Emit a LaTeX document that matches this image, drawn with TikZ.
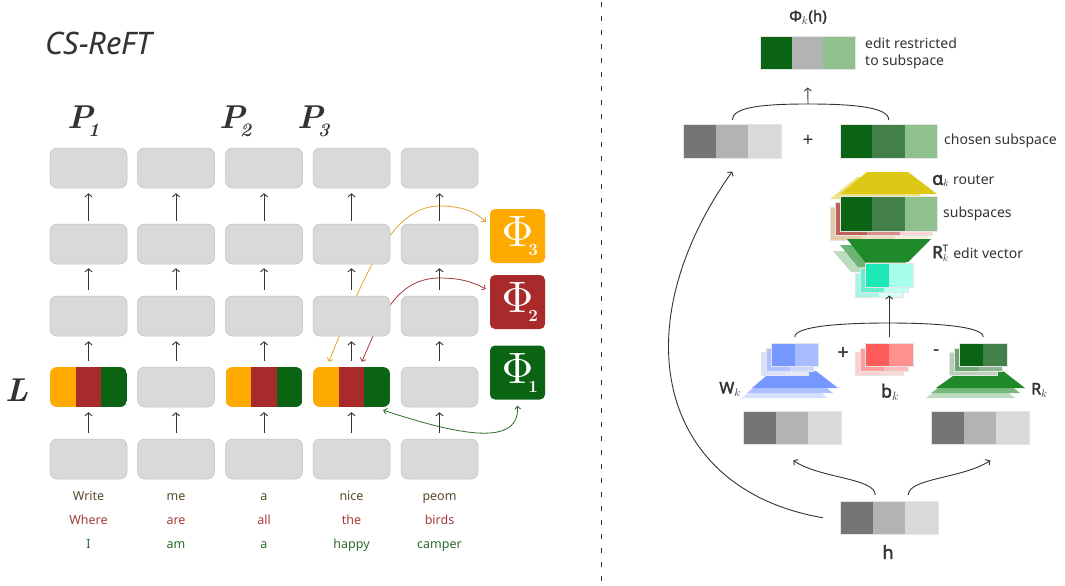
\documentclass[tikz,border=0pt]{standalone}
\usepackage{fontspec}
\usepackage{graphicx}
\usetikzlibrary{arrows.meta,backgrounds,calc}
\newfontfamily\notosans{Noto Sans}
\newfontfamily\notobold{Noto Sans}[FakeBold=2.2]
\definecolor{cellg}{HTML}{D9D9D9}
\definecolor{cellb}{HTML}{C2C2C2}
\definecolor{amber}{HTML}{FFAA00}
\definecolor{crim}{HTML}{A82A2A}
\definecolor{dgreen}{HTML}{0B6413}
\definecolor{mgreen}{HTML}{44804A}
\definecolor{lgreen}{HTML}{8FC18F}
\definecolor{gA}{HTML}{757575}
\definecolor{gB}{HTML}{B3B3B3}
\definecolor{gC}{HTML}{D9D9D9}
\definecolor{ink}{HTML}{333333}
\definecolor{yel}{HTML}{DDC915}
\definecolor{yelL}{HTML}{EFE38A}
\definecolor{trg}{HTML}{1F8A29}
\definecolor{blueA}{HTML}{7799FF}
\definecolor{blueB}{HTML}{A9BCFF}
\definecolor{redA}{HTML}{FF5C5C}
\definecolor{redB}{HTML}{FF9191}
\definecolor{tealA}{HTML}{1DE9B6}
\definecolor{tealB}{HTML}{A7FFEB}
\definecolor{rsA}{HTML}{C0605A}
\definecolor{rsB}{HTML}{D98C8A}
\definecolor{rsC}{HTML}{FFD4D4}
\definecolor{tnA}{HTML}{E3CBA8}
\definecolor{tnB}{HTML}{EEDCC2}
\definecolor{tnC}{HTML}{FAEEDF}
\definecolor{wA}{HTML}{5B4A2E}
\definecolor{wB}{HTML}{A63D3D}
\definecolor{wC}{HTML}{2E6B30}
\definecolor{lkO}{HTML}{E3A532}
\definecolor{lkR}{HTML}{A83C3C}
\definecolor{lkG}{HTML}{2E6E2E}
% three-cell bar: name, x, y(top, px down), w, h, c1, c2, c3
\newcommand\tribar[8]{%
  \fill[#6] (#2,-#3) rectangle (#2+#4/3,-#3-#5);
  \fill[#7] (#2+#4/3,-#3) rectangle (#2+2*#4/3,-#3-#5);
  \fill[#8] (#2+2*#4/3,-#3) rectangle (#2+#4,-#3-#5);
  \node[barframe, minimum width=#4pt, minimum height=#5pt, anchor=north west] (#1) at (#2,-#3) {};}
% two-cell box: name, x, y, w, h, c1, c2
\newcommand\duobar[7]{%
  \fill[#6] (#2,-#3) rectangle (#2+#4/2,-#3-#5);
  \fill[#7] (#2+#4/2,-#3) rectangle (#2+#4,-#3-#5);
  \node[barframe, minimum width=#4pt, minimum height=#5pt, anchor=north west] (#1) at (#2,-#3) {};}
\begin{document}
\begin{tikzpicture}[x=1pt,y=1pt,
  cell/.style={rectangle, rounded corners=7pt, fill=cellg, draw=cellb, line width=0.5pt, minimum width=77pt, minimum height=40pt, inner sep=0pt},
  tricell/.style={rectangle, rounded corners=7pt, minimum width=77pt, minimum height=40pt, inner sep=0pt, path picture={
     \fill[amber, sharp corners] (path picture bounding box.south west) rectangle ([xshift=25.7pt]path picture bounding box.north west);
     \fill[crim, sharp corners] ([xshift=25.7pt]path picture bounding box.south west) rectangle ([xshift=51.3pt]path picture bounding box.north west);
     \fill[dgreen, sharp corners] ([xshift=51.3pt]path picture bounding box.south west) rectangle (path picture bounding box.north east);}},
  up/.style={draw=ink, line width=0.9pt, -{Straight Barb[length=3pt,width=7pt]}},
  link/.style={line width=0.8pt, {Straight Barb[length=3pt,width=6pt]}-{Straight Barb[length=3pt,width=6pt]}},
  word/.style={font=\notosans\fontsize{12.5}{12.5}\selectfont, anchor=base, inner sep=0pt},
  phibox/.style={rectangle, rounded corners=5pt, minimum width=55pt, minimum height=54pt, inner sep=0pt, text=white},
  bigit/.style={font=\bfseries\itshape\fontsize{33}{33}\selectfont, text=ink, inner sep=0pt, anchor=base west},
  lbl/.style={font=\notosans\fontsize{14}{17}\selectfont, text=ink, inner sep=0pt, anchor=west, align=left},
  blbl/.style={font=\notobold\fontsize{16}{16}\selectfont, text=ink, inner sep=0pt},
  line/.style={draw=ink, line width=0.9pt},
  barframe/.style={draw=black!10, line width=0.5pt, inner sep=0pt},
]
\useasboundingbox (0,0) rectangle (1065,-586);

% ---------------- left panel ----------------
\node[anchor=west, font=\notosans\itshape\fontsize{31}{31}\selectfont, text=ink, inner sep=0pt] (title) at (45,-43) {CS-ReFT};
\node[bigit] (p1) at (67,-128) {P\kern-5pt\raisebox{-8pt}{\fontsize{19}{19}\selectfont 1}};
\node[bigit] (p2) at (219,-128) {P\kern-5pt\raisebox{-8pt}{\fontsize{19}{19}\selectfont 2}};
\node[bigit] (p3) at (297,-128) {P\kern-5pt\raisebox{-8pt}{\fontsize{19}{19}\selectfont 3}};
\node[bigit] (lL) at (5,-401) {L};

\foreach \x [count=\i] in {88.5,176,264,351.5,439.5} {
  \node[cell] (n1-\i) at (\x,-168) {};
  \node[cell] (n2-\i) at (\x,-244) {};
  \node[cell] (n3-\i) at (\x,-316) {};
  \node[cell] (n5-\i) at (\x,-459) {};
}
\node[tricell] (n4-1) at (88.5,-387) {};
\node[cell] (n4-2) at (176,-387) {};
\node[tricell] (n4-3) at (264,-387) {};
\node[tricell] (n4-4) at (351.5,-387) {};
\node[cell] (n4-5) at (439.5,-387) {};

\foreach \i in {1,...,5} {
  \draw[up] ([yshift=6pt]n5-\i.north) -- ([yshift=-5pt]n4-\i.south);
  \draw[up] ([yshift=6pt]n4-\i.north) -- ([yshift=-5pt]n3-\i.south);
  \draw[up] ([yshift=6pt]n3-\i.north) -- ([yshift=-4pt]n2-\i.south);
  \draw[up] ([yshift=3pt]n2-\i.north) -- ([yshift=-5pt]n1-\i.south);
}

\foreach \x/\a/\b/\c [count=\i] in {88.5/Write/Where/I, 176/me/are/am, 264/a/all/a, 351.5/nice/the/happy, 439.5/peom/birds/camper} {
  \node[word, text=wA] (wa\i) at (\x,-500) {\a};
  \node[word, text=wB] (wb\i) at (\x,-524) {\b};
  \node[word, text=wC] (wc\i) at (\x,-548) {\c};
}

\node[phibox, fill=amber] (phi3) at (517.5,-236) {\scalebox{4.4}{$\Phi$}\rlap{\kern-5pt\raisebox{-9pt}{\fontsize{17}{17}\selectfont\bfseries 3}}};
\node[phibox, fill=crim] (phi2) at (517.5,-302) {\scalebox{4.4}{$\Phi$}\rlap{\kern-5pt\raisebox{-9pt}{\fontsize{17}{17}\selectfont\bfseries 2}}};
\node[phibox, fill=dgreen] (phi1) at (517.5,-372.5) {\scalebox{4.4}{$\Phi$}\rlap{\kern-5pt\raisebox{-9pt}{\fontsize{17}{17}\selectfont\bfseries 1}}};

% ---------------- right panel ----------------
\node[blbl, font=\notobold\fontsize{15}{15}\selectfont] (phik) at (808,-17) {Φ$_k$(h)};
\tribar{tb}{760}{36}{95}{33}{dgreen}{gB}{lgreen}
\node[lbl] (note1) at (865,-53) {edit restricted\\to subspace};

\tribar{lb}{683}{124}{98}{34}{gA}{gB}{gC}
\node[font=\notosans\fontsize{19}{19}\selectfont, text=ink, inner sep=0pt] (plus1) at (808,-141) {+};
\tribar{gb}{840}{124}{97}{34}{dgreen}{mgreen}{lgreen}
\node[lbl] (cs) at (944,-141) {chosen subspace};

\coordinate (join1) at (808,-104);
\draw[line] ([yshift=4pt]lb.north) .. controls +(0,13) and +(-45,0) .. (join1) .. controls +(45,0) and +(0,13) .. ([yshift=4pt]gb.north);
\draw[up] (join1) -- ([yshift=-18pt]tb.south);

% router
\fill[yelL] (857,-177) -- (898,-177) -- (925,-199) -- (830,-199) -- cycle;
\fill[yel] (867,-172) -- (908,-172) -- (937,-194) -- (840,-194) -- cycle;
\node[lbl] (router) at (932,-181) {{\notobold\fontsize{18}{18}\selectfont α}$_k$ router};

% subspaces
\tribar{sub3}{830}{207}{97}{33}{tnA}{tnB}{tnC}
\tribar{sub2}{835}{202}{97}{33}{rsA}{rsB}{rsC}
\tribar{sub}{840}{196}{97}{35}{dgreen}{mgreen}{lgreen}
\node[lbl] (subs) at (943,-214) {subspaces};

% R^T
\fill[trg!30] (833,-251) -- (917,-251) -- (894,-272) -- (851,-272) -- cycle;
\fill[trg!65] (840,-245) -- (924,-245) -- (901,-267) -- (858,-267) -- cycle;
\fill[trg] (847,-239) -- (931,-239) -- (908,-262) -- (865,-262) -- cycle;
\node[lbl] (ev) at (932,-253) {{\notobold\fontsize{17}{17}\selectfont R}\rlap{\raisebox{7pt}{\notobold\fontsize{9}{9}\selectfont T}}\raisebox{-3pt}{$\scriptstyle k$}\hspace{5pt}edit vector};

% teal
\duobar{te3}{855}{273}{48}{24}{tealA!40}{tealB!45}
\duobar{te2}{860}{268}{48}{24}{tealA!70}{tealB!70}
\duobar{te}{865}{263}{48}{24}{tealA}{tealB}

% W_k group
\fill[blueA!30] (762,-381) -- (806,-381) -- (828,-398) -- (742,-398) -- cycle;
\fill[blueA!60] (767,-376) -- (811,-376) -- (833,-393) -- (747,-393) -- cycle;
\fill[blueA] (772,-371) -- (816,-371) -- (838,-388) -- (752,-388) -- cycle;
\duobar{wb3}{761}{352}{47}{23}{blueA!30}{blueB!35}
\duobar{wb2}{766}{348}{47}{23}{blueA!60}{blueB!60}
\duobar{wb}{771}{343}{47}{23}{blueA}{blueB}
\node[blbl, anchor=east] (wk) at (741,-389) {W$_k$};

\node[font=\notobold\fontsize{19}{19}\selectfont, text=ink, inner sep=0pt] (plus2) at (843,-353) {+};

% b_k group
\duobar{bb3}{855}{352}{48}{23}{redA!30}{redB!35}
\duobar{bb2}{860}{348}{48}{23}{redA!60}{redB!60}
\duobar{bb}{865}{343}{48}{23}{redA}{redB}
\node[blbl, font=\notobold\fontsize{18}{18}\selectfont] (bk) at (890,-392) {b$_k$};

\node[font=\notobold\fontsize{17}{17}\selectfont, text=ink, inner sep=0pt] (minus) at (936,-352) {-};

% R_k group
\fill[trg!30] (950,-381) -- (993,-381) -- (1015,-398) -- (926,-398) -- cycle;
\fill[trg!60] (955,-376) -- (998,-376) -- (1020,-393) -- (931,-393) -- cycle;
\fill[trg] (960,-371) -- (1003,-371) -- (1025,-388) -- (936,-388) -- cycle;
\duobar{rb3}{949}{352}{48}{23}{dgreen!30}{mgreen!35}
\duobar{rb2}{954}{348}{48}{23}{dgreen!60}{mgreen!60}
\duobar{rb}{959}{343}{48}{23}{dgreen}{mgreen}
\node[blbl, anchor=west] (rk) at (1031,-390) {R$_k$};

\coordinate (join2) at (888,-323);
\draw[line] ([yshift=6pt]wb.north) .. controls +(0,11) and +(-45,0) .. (join2) .. controls +(45,0) and +(0,11) .. ([yshift=6pt]rb.north);
\draw[up] ([yshift=6pt]bb.north) -- ([yshift=-8pt]te.south);

% gray bars
\tribar{wg}{743}{411}{98}{33}{gA}{gB}{gC}
\tribar{rg}{931}{411}{98}{33}{gA}{gB}{gC}
\tribar{hb}{840}{501}{98}{33}{gA}{gB}{gC}
\node[blbl, font=\notobold\fontsize{18}{18}\selectfont] (hl) at (888,-552) {h};

\draw[up] ([xshift=-14pt,yshift=6pt]hb.north) .. controls +(0,17) and +(27,-18) .. ([xshift=1pt,yshift=-16pt]wg.south);
\draw[up] ([xshift=19pt,yshift=6pt]hb.north) .. controls +(0,17) and +(-27,-18) .. ([xshift=10pt,yshift=-16pt]rg.south);
\draw[up] ([xshift=-17pt]hb.west) .. controls (660,-490) and (620,-330) .. ([yshift=-13pt]lb.south);

% ---------------- background layer ----------------
\begin{scope}[on background layer]
\fill[white] (0,0) rectangle (1065,-586);
\draw[ink, line width=1pt, dash pattern=on 5pt off 9pt] (601,-2) -- (601,-586);
\draw[link, draw=lkO] ([xshift=16pt,yshift=5pt]n4-4.north west) .. controls (370,-260) and (395,-206) .. (440,-206) .. controls (465,-206) and (478,-214) .. ([xshift=-4pt,yshift=14pt]phi3.west);
\draw[link, draw=lkR] ([xshift=49pt,yshift=5pt]n4-4.north west) .. controls (380,-320) and (395,-278) .. (440,-278) .. controls (462,-278) and (475,-283) .. ([xshift=-4pt,yshift=13pt]phi2.west);
\draw[link, draw=lkG] ([xshift=-7pt,yshift=-3pt]n4-4.south east) .. controls (450,-432) and (520,-450) .. ([yshift=-6pt]phi1.south);
\end{scope}
\end{tikzpicture}
\end{document}
